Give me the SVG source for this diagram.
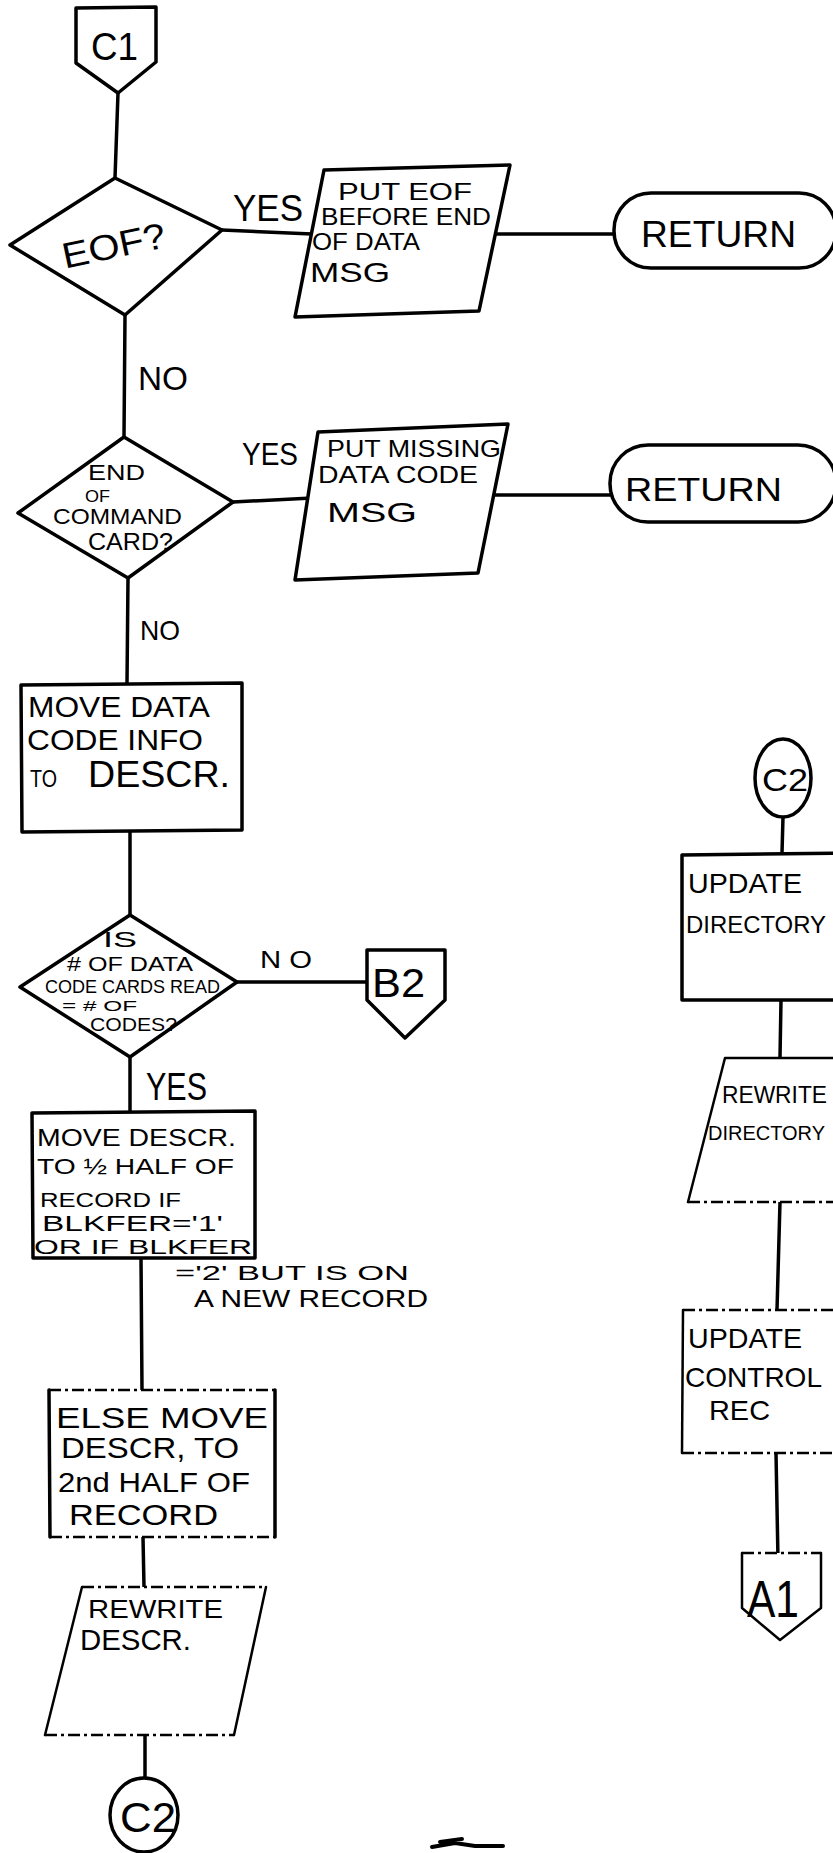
<svg xmlns="http://www.w3.org/2000/svg" width="833" height="1853" viewBox="0 0 833 1853">
  <style>
    .s { fill: #fff; stroke: #000; stroke-width: 3.5; stroke-linejoin: round; stroke-linecap: round; }
    .e { fill: none; stroke: #000; stroke-width: 3.5; stroke-linejoin: round; stroke-linecap: round; }
    .t { fill: none; stroke: #000; stroke-width: 2.5; stroke-linejoin: round; stroke-linecap: round; }
    .d { fill: none; stroke: #000; stroke-width: 2.5; stroke-dasharray: 12 4 3 4; }
    .w { fill: #fff; stroke: none; }
    .c { fill: none; stroke: #000; stroke-width: 3.5; stroke-linecap: round; }
    text { font-family: "Liberation Sans", Arial, sans-serif; fill: #000; }
  </style>
  <rect width="833" height="1853" fill="#fff"/>

  <!-- connectors -->
  <g id="connectors" class="c">
    <path d="M118,93 L115,178"/>
    <path d="M222,230 L312,234"/>
    <path d="M497,234 L614,234"/>
    <path d="M125,315 L124,437"/>
    <path d="M233,502 L312,498"/>
    <path d="M493,495 L610,495"/>
    <path d="M128,578 L127,683"/>
    <path d="M130,832 L130,915"/>
    <path d="M237,982 L367,982"/>
    <path d="M130,1057 L130,1112"/>
    <path d="M141,1258 L142,1390"/>
    <path d="M143,1537 L144,1587"/>
    <path d="M145,1735 L145,1778"/>
    <path d="M783,817 L782,853"/>
    <path d="M781,1000 L780,1058"/>
    <path d="M780,1202 L777,1310"/>
    <path d="M776,1453 L778,1560"/>
  </g>

  <!-- branch labels -->
  <g id="labels">
    <text x="233" y="221" font-size="36" textLength="70" lengthAdjust="spacingAndGlyphs">YES</text>
    <text x="138" y="390" font-size="34" textLength="50" lengthAdjust="spacingAndGlyphs">NO</text>
    <text x="242" y="465" font-size="32" textLength="56" lengthAdjust="spacingAndGlyphs">YES</text>
    <text x="140" y="640" font-size="28" textLength="40" lengthAdjust="spacingAndGlyphs">NO</text>
    <text x="260" y="968" font-size="24" textLength="52" lengthAdjust="spacingAndGlyphs">N O</text>
    <text x="146" y="1100" font-size="38" textLength="61" lengthAdjust="spacingAndGlyphs">YES</text>
  </g>

  <!-- entry connector C1 -->
  <g id="c1">
    <path class="s" d="M76,8 L156,7 L156,62 L118,93 L76,63 Z"/>
    <text x="91" y="60" font-size="38" textLength="47" lengthAdjust="spacingAndGlyphs">C1</text>
  </g>

  <!-- decision: EOF? -->
  <g id="eof">
    <path class="s" d="M115,178 L222,230 L125,315 L10,245 Z"/>
    <text x="60" y="258" font-size="36" textLength="105" lengthAdjust="spacingAndGlyphs" transform="rotate(-12 113 240)">EOF?</text>
  </g>

  <!-- output: PUT EOF BEFORE END OF DATA MSG -->
  <g id="put-eof">
    <path class="s" d="M324,170 L510,165 L479,311 L295,317 Z"/>
    <text x="338" y="200" font-size="24" textLength="134" lengthAdjust="spacingAndGlyphs">PUT EOF</text>
    <text x="321" y="225" font-size="24" textLength="170" lengthAdjust="spacingAndGlyphs">BEFORE END</text>
    <text x="312" y="250" font-size="24" textLength="108" lengthAdjust="spacingAndGlyphs">OF DATA</text>
    <text x="310" y="282" font-size="28" textLength="80" lengthAdjust="spacingAndGlyphs">MSG</text>
  </g>

  <!-- terminal: RETURN -->
  <g id="return1">
    <rect class="s" x="614" y="193" width="222" height="75" rx="37"/>
    <text x="641" y="247" font-size="36" textLength="155" lengthAdjust="spacingAndGlyphs">RETURN</text>
  </g>

  <!-- decision: END OF COMMAND CARD? -->
  <g id="end-card">
    <path class="s" d="M124,437 L233,502 L128,578 L18,513 Z"/>
    <text x="88" y="480" font-size="22" textLength="57" lengthAdjust="spacingAndGlyphs">END</text>
    <text x="85" y="502" font-size="16" textLength="25" lengthAdjust="spacingAndGlyphs">OF</text>
    <text x="53" y="524" font-size="22" textLength="129" lengthAdjust="spacingAndGlyphs">COMMAND</text>
    <text x="88" y="550" font-size="24" textLength="85" lengthAdjust="spacingAndGlyphs">CARD?</text>
  </g>

  <!-- output: PUT MISSING DATA CODE MSG -->
  <g id="put-missing">
    <path class="s" d="M318,432 L508,424 L478,573 L295,580 Z"/>
    <text x="327" y="457" font-size="24" textLength="174" lengthAdjust="spacingAndGlyphs">PUT MISSING</text>
    <text x="318" y="483" font-size="24" textLength="160" lengthAdjust="spacingAndGlyphs">DATA CODE</text>
    <text x="327" y="522" font-size="28" textLength="90" lengthAdjust="spacingAndGlyphs">MSG</text>
  </g>

  <!-- terminal: RETURN -->
  <g id="return2">
    <rect class="s" x="610" y="445" width="226" height="77" rx="38"/>
    <text x="625" y="501" font-size="34" textLength="157" lengthAdjust="spacingAndGlyphs">RETURN</text>
  </g>

  <!-- process: MOVE DATA CODE INFO TO DESCR. -->
  <g id="move-info">
    <path class="s" d="M21,685 L242,683 L242,830 L22,832 Z"/>
    <text x="28" y="717" font-size="30" textLength="182" lengthAdjust="spacingAndGlyphs">MOVE DATA</text>
    <text x="27" y="750" font-size="30" textLength="176" lengthAdjust="spacingAndGlyphs">CODE INFO</text>
    <text x="30" y="787" font-size="24" textLength="27" lengthAdjust="spacingAndGlyphs">TO</text>
    <text x="88" y="787" font-size="36" textLength="142" lengthAdjust="spacingAndGlyphs">DESCR.</text>
  </g>

  <!-- decision: # OF DATA CODE CARDS READ = # OF CODES? -->
  <g id="count-check">
    <path class="s" d="M130,915 L237,982 L130,1057 L20,987 Z"/>
    <text x="103" y="947" font-size="22" textLength="34" lengthAdjust="spacingAndGlyphs">IS</text>
    <text x="67" y="971" font-size="20" textLength="126" lengthAdjust="spacingAndGlyphs"># OF DATA</text>
    <text x="45" y="993" font-size="18" textLength="175" lengthAdjust="spacingAndGlyphs">CODE CARDS READ</text>
    <text x="62" y="1011" font-size="15" textLength="75" lengthAdjust="spacingAndGlyphs">= # OF</text>
    <text x="90" y="1031" font-size="18" textLength="87" lengthAdjust="spacingAndGlyphs">CODES?</text>
  </g>

  <!-- off-page connector B2 -->
  <g id="b2">
    <path class="s" d="M367,950 L445,950 L445,1000 L405,1038 L367,1000 Z"/>
    <text x="372" y="997" font-size="40" textLength="53" lengthAdjust="spacingAndGlyphs">B2</text>
  </g>

  <!-- process: MOVE DESCR. TO 1/2 HALF OF RECORD -->
  <g id="move-first-half">
    <path class="s" d="M32,1113 L255,1111 L255,1258 L33,1258 Z"/>
    <text x="37" y="1146" font-size="24" textLength="199" lengthAdjust="spacingAndGlyphs">MOVE DESCR.</text>
    <text x="37" y="1174" font-size="22" textLength="197" lengthAdjust="spacingAndGlyphs">TO ½ HALF OF</text>
    <text x="40" y="1207" font-size="20" textLength="141" lengthAdjust="spacingAndGlyphs">RECORD IF</text>
    <text x="42" y="1231" font-size="22" textLength="181" lengthAdjust="spacingAndGlyphs">BLKFER='1'</text>
    <text x="34" y="1254" font-size="20" textLength="218" lengthAdjust="spacingAndGlyphs">OR IF BLKFER</text>
  </g>

  <!-- note continuing the condition -->
  <g id="note">
    <text x="175" y="1280" font-size="20" textLength="234" lengthAdjust="spacingAndGlyphs">='2' BUT IS ON</text>
    <text x="194" y="1307" font-size="24" textLength="234" lengthAdjust="spacingAndGlyphs">A NEW RECORD</text>
  </g>

  <!-- process: ELSE MOVE DESCR. TO 2nd HALF OF RECORD -->
  <g id="move-second-half">
    <path class="w" d="M49,1390 L275,1390 L275,1537 L50,1537 Z"/>
    <path class="e" d="M49,1390 L50,1537 M275,1390 L275,1537"/>
    <path class="d" d="M49,1390 L275,1390 M50,1537 L275,1537"/>
    <text x="56" y="1428" font-size="30" textLength="212" lengthAdjust="spacingAndGlyphs">ELSE MOVE</text>
    <text x="61" y="1458" font-size="30" textLength="178" lengthAdjust="spacingAndGlyphs">DESCR, TO</text>
    <text x="58" y="1492" font-size="28" textLength="192" lengthAdjust="spacingAndGlyphs">2nd HALF OF</text>
    <text x="69" y="1525" font-size="30" textLength="149" lengthAdjust="spacingAndGlyphs">RECORD</text>
  </g>

  <!-- output: REWRITE DESCR. -->
  <g id="rewrite-descr">
    <path class="w" d="M82,1587 L266,1587 L234,1735 L45,1735 Z"/>
    <path class="t" d="M82,1587 L45,1735 M266,1587 L234,1735"/>
    <path class="d" d="M82,1587 L266,1587 M45,1735 L234,1735"/>
    <text x="88" y="1618" font-size="26" textLength="135" lengthAdjust="spacingAndGlyphs">REWRITE</text>
    <text x="80" y="1650" font-size="30" textLength="111" lengthAdjust="spacingAndGlyphs">DESCR.</text>
  </g>

  <!-- on-page connector C2 (exit) -->
  <g id="c2-out">
    <ellipse class="s" cx="144" cy="1815" rx="34" ry="37"/>
    <text x="148" y="1832" font-size="42" text-anchor="middle" textLength="56" lengthAdjust="spacingAndGlyphs">C2</text>
  </g>

  <!-- on-page connector C2 (entry) -->
  <g id="c2-in">
    <ellipse class="s" cx="783" cy="778" rx="28" ry="39"/>
    <text x="785" y="791" font-size="32" text-anchor="middle" textLength="46" lengthAdjust="spacingAndGlyphs">C2</text>
  </g>

  <!-- process: UPDATE DIRECTORY -->
  <g id="update-directory">
    <path class="s" d="M682,855 L850,853 L850,1000 L682,1000 Z"/>
    <text x="688" y="893" font-size="28" textLength="114" lengthAdjust="spacingAndGlyphs">UPDATE</text>
    <text x="686" y="933" font-size="24" textLength="140" lengthAdjust="spacingAndGlyphs">DIRECTORY</text>
  </g>

  <!-- manual operation: REWRITE DIRECTORY -->
  <g id="rewrite-directory">
    <path class="w" d="M725,1058 L900,1058 L940,1202 L688,1202 Z"/>
    <path class="t" d="M850,1058 L725,1058 L688,1202"/>
    <path class="d" d="M688,1202 L850,1202"/>
    <text x="722" y="1103" font-size="23" textLength="105" lengthAdjust="spacingAndGlyphs">REWRITE</text>
    <text x="708" y="1140" font-size="20" textLength="117" lengthAdjust="spacingAndGlyphs">DIRECTORY</text>
  </g>

  <!-- process: UPDATE CONTROL REC -->
  <g id="update-control">
    <path class="w" d="M683,1310 L850,1310 L850,1453 L682,1453 Z"/>
    <path class="t" d="M683,1310 L682,1453"/>
    <path class="d" d="M683,1310 L850,1310 M682,1453 L850,1453"/>
    <text x="688" y="1348" font-size="28" textLength="114" lengthAdjust="spacingAndGlyphs">UPDATE</text>
    <text x="685" y="1387" font-size="28" textLength="137" lengthAdjust="spacingAndGlyphs">CONTROL</text>
    <text x="709" y="1420" font-size="28" textLength="61" lengthAdjust="spacingAndGlyphs">REC</text>
  </g>

  <!-- off-page connector A1 -->
  <g id="a1">
    <path class="w" d="M742,1553 L821,1553 L821,1608 L780,1640 L742,1608 Z"/>
    <path class="t" d="M742,1553 L742,1608 L780,1640 L821,1608 L821,1553"/>
    <path class="d" d="M742,1553 L821,1553"/>
    <text x="747" y="1617" font-size="52" textLength="52" lengthAdjust="spacingAndGlyphs">A1</text>
  </g>

  <!-- page mark -->
  <path d="M432,1847 L455,1843 L475,1846 L503,1846 M440,1842 L462,1839" fill="none" stroke="#000" stroke-width="4" stroke-linecap="round"/>
</svg>
